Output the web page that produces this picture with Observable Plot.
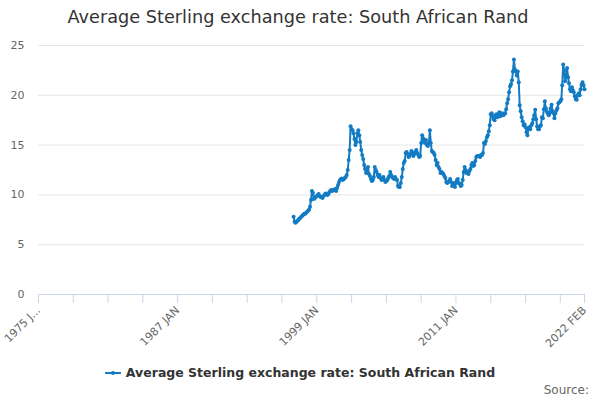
<!DOCTYPE html>
<html>
<head>
<meta charset="utf-8">
<script src="https://cdn.jsdelivr.net/npm/d3@7"></script>
<script src="https://cdn.jsdelivr.net/npm/@observablehq/plot@0.6"></script>
<style>
  body { margin: 0; background: #fff; font-family: "DejaVu Sans", sans-serif; }
  #wrap { position: relative; width: 600px; height: 400px; overflow: hidden; }
  #title { position: absolute; top: 7px; left: 0; width: 596px; text-align: center; font-size: 17.7px; color: #333; }
  #chart { position: absolute; top: 0; left: 0; }
  #legend { position: absolute; top: 365px; left: 0; width: 600px; text-align: center; font-size: 12.5px; font-weight: bold; color: #333; }
  #legend svg { vertical-align: -1px; margin-right: 4px; }
  #source { position: absolute; top: 383px; right: 11px; font-size: 12px; color: #666; }
</style>
</head>
<body>
<div id="wrap">
  <div id="title">Average Sterling exchange rate: South African Rand</div>
  <div id="chart"></div>
  <div id="legend"><svg width="17" height="10"><line x1="0" y1="5" x2="16" y2="5" stroke="#127bc3" stroke-width="2"/><circle cx="8" cy="5" r="2" fill="#127bc3"/></svg>Average Sterling exchange rate: South African Rand</div>
  <div id="source">Source:</div>
</div>
<script>
const seriesName = "Average Sterling exchange rate: South African Rand";
const firstMonth = [1997, 0]; // January 1997
// Monthly averages, ZAR per GBP (Jan 1997 .. Feb 2022)
const rates = [
  7.8, 7.3, 7.2, 7.3, 7.4, 7.5, 7.6, 7.7, 7.8, 7.9, 8.0, 8.1,          // 1997
  8.1, 8.2, 8.3, 8.4, 8.5, 8.8, 9.5, 10.4, 10.2, 9.6, 9.7, 9.8,        // 1998
  9.9, 10.0, 10.1, 9.9, 9.8, 9.8, 9.7, 9.9, 10.0, 10.15, 10.1, 10.0,   // 1999
  10.1, 10.3, 10.4, 10.5, 10.4, 10.5, 10.5, 10.6, 10.4, 10.7, 11.0, 11.3, // 2000
  11.5, 11.6, 11.65, 11.5, 11.6, 11.7, 11.8, 12.0, 12.5, 13.5, 14.5, 16.9, // 2001
  16.6, 16.5, 16.2, 15.6, 15.0, 15.3, 16.2, 16.5, 16.0, 15.3, 14.5, 14.0, // 2002
  13.6, 13.0, 12.6, 12.2, 12.4, 12.8, 12.1, 11.9, 11.6, 11.4, 11.5, 11.8, // 2003
  12.8, 12.5, 12.3, 12.0, 11.8, 12.0, 11.7, 11.5, 11.6, 11.8, 11.5, 11.3, // 2004
  11.4, 11.5, 11.7, 11.9, 12.3, 12.0, 11.8, 11.7, 11.6, 11.8, 11.6, 11.5, // 2005
  10.9, 10.8, 10.8, 11.2, 11.8, 12.6, 13.2, 13.4, 14.2, 14.3, 14.1, 13.8, // 2006
  13.9, 14.1, 14.4, 14.2, 13.9, 14.1, 14.3, 14.5, 14.2, 14.0, 13.8, 13.9, // 2007
  15.2, 16.0, 15.7, 15.4, 15.2, 15.5, 15.0, 14.9, 15.2, 16.5, 15.2, 14.4, // 2008
  14.3, 14.2, 14.0, 13.5, 13.0, 13.2, 12.8, 12.6, 12.2, 12.3, 12.2, 12.1, // 2009
  11.9, 11.7, 11.3, 11.2, 11.3, 11.4, 11.6, 11.3, 10.9, 11.0, 11.2, 10.8, // 2010
  11.2, 11.5, 11.6, 11.2, 11.1, 10.9, 11.0, 11.5, 12.3, 12.8, 12.5, 12.2, // 2011
  12.3, 12.1, 12.4, 12.6, 13.0, 13.2, 12.9, 13.0, 13.4, 13.8, 13.9, 13.9, // 2012
  13.9, 13.8, 14.0, 14.0, 14.2, 15.2, 15.1, 15.4, 15.8, 16.0, 16.4, 17.0, // 2013
  18.1, 18.2, 17.9, 17.6, 17.5, 18.0, 18.1, 17.8, 18.0, 18.3, 17.9, 18.0, // 2014
  18.2, 18.0, 18.1, 18.2, 18.6, 19.2, 19.6, 20.3, 20.9, 21.1, 21.5, 22.4, // 2015
  23.6, 22.6, 22.4, 22.0, 22.4, 21.3, 19.0, 18.4, 17.8, 17.4, 17.0, 17.1, // 2016
  16.8, 16.3, 16.0, 16.7, 16.8, 16.6, 17.0, 17.2, 17.6, 18.0, 18.55, 17.6, // 2017
  16.9, 16.6, 16.6, 16.9, 17.0, 17.8, 17.7, 18.6, 19.4, 18.7, 18.4, 18.2, // 2018
  18.0, 18.2, 18.7, 19.05, 18.4, 18.2, 17.7, 18.2, 18.5, 18.7, 19.2, 19.3, // 2019
  19.4, 19.6, 21.0, 23.1, 22.5, 21.4, 21.8, 22.75, 21.8, 21.2, 20.6, 20.4, // 2020
  20.8, 20.5, 20.3, 19.9, 19.6, 19.55, 20.0, 20.2, 20.0, 20.6, 21.05, 21.3, // 2021
  21.0, 20.6                                                              // 2022
];
const yTicks = [0, 5, 10, 15, 20, 25];
const tickYears = [1975, 1978, 1981, 1984, 1987, 1990, 1993, 1996, 1999, 2002, 2005, 2008, 2011, 2014, 2017, 2020];
const labelDates = [[1975, 0], [1987, 0], [1999, 0], [2011, 0], [2022, 1]];
const labelTexts = ["1975 J...", "1987 JAN", "1999 JAN", "2011 JAN", "2022 FEB"];

const color = "#127bc3";
const data = rates.map((v, i) => ({date: new Date(Date.UTC(firstMonth[0], firstMonth[1] + i, 1)), value: v}));
const tickDates = tickYears.map(y => new Date(Date.UTC(y, 0, 1))).concat([new Date(Date.UTC(2022, 1, 1))]);
const labDates = labelDates.map(([y, m]) => new Date(Date.UTC(y, m, 1)));
const labelMap = new Map(labDates.map((d, i) => [+d, labelTexts[i]]));

const chart = Plot.plot({
  width: 600,
  height: 360,
  marginTop: 45,
  marginBottom: 66,
  marginLeft: 38,
  marginRight: 16,
  style: {fontFamily: "DejaVu Sans, sans-serif", fontSize: "11px", background: "transparent"},
  x: {type: "utc", domain: [new Date(Date.UTC(1975, 0, 1)), new Date(Date.UTC(2022, 1, 1))]},
  y: {domain: [0, 25]},
  marks: [
    Plot.gridY(yTicks.filter(d => d > 0), {stroke: "#e6e6e6", strokeOpacity: 1}),
    Plot.axisY(yTicks, {tickSize: 0, tickPadding: 14, color: "#666", fontSize: 11, label: null}),
    Plot.ruleY([0], {stroke: "#ccd6eb"}),
    Plot.axisX(tickDates, {tickSize: 9, tickFormat: () => "", stroke: "#ccd6eb", strokeOpacity: 1, label: null}),
    Plot.axisX(labDates, {tickSize: 0, tickRotate: -45, tickPadding: 14, tickFormat: d => labelMap.get(+d), color: "#666", fontSize: 11, label: null}),
    Plot.line(data, {x: "date", y: "value", stroke: color, strokeWidth: 2}),
    Plot.dot(data, {x: "date", y: "value", r: 2, fill: color})
  ]
});
document.getElementById("chart").appendChild(chart);
</script>
</body>
</html>
